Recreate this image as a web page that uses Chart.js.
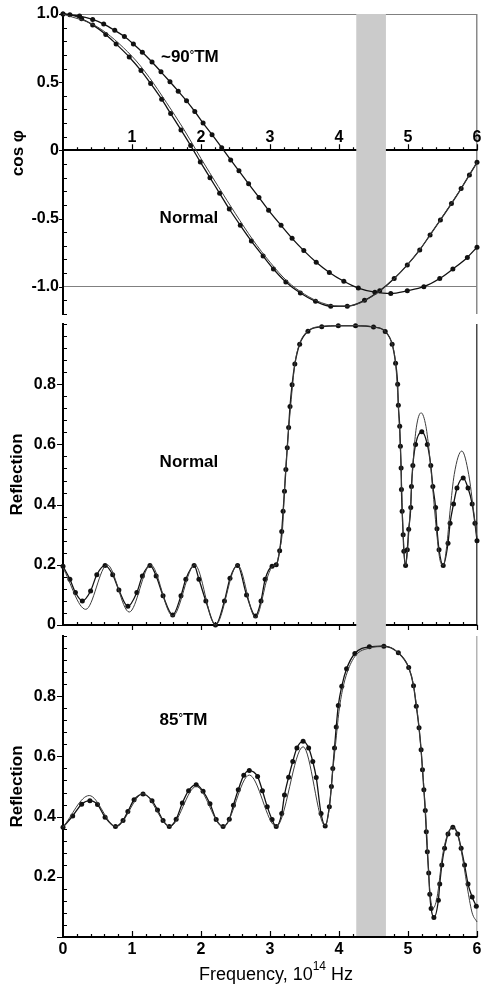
<!DOCTYPE html>
<html>
<head>
<meta charset="utf-8">
<script src="https://cdn.jsdelivr.net/npm/chart.js@4.4.1/dist/chart.umd.min.js"></script>
<style>
  html, body { margin: 0; padding: 0; background: #fff; }
  #wrap { position: relative; width: 481px; height: 989px; overflow: hidden; }
  canvas { position: absolute; left: 0; top: 0; }
</style>
</head>
<body>
<div id="wrap">
  <canvas id="c1" width="481" height="989"></canvas>
  <canvas id="c2" width="481" height="989"></canvas>
  <canvas id="c3" width="481" height="989"></canvas>
</div>
<script>
// ---- data (frequency in 10^14 Hz) ----
var bandFrom = 4.25, bandTo = 4.68;

// top panel: cos phi, ~90 deg TM (line with dots)
var tmDotX = [0, 0.24, 0.43, 0.59, 0.75, 0.89, 1.02, 1.15, 1.29, 1.42, 1.55, 1.67, 1.79, 1.91, 2.03, 2.16, 2.30, 2.43, 2.55, 2.69, 2.84, 2.98, 3.16, 3.32, 3.49, 3.67, 3.86, 4.07, 4.28, 4.52, 4.75, 4.99, 5.23, 5.46, 5.65, 5.86, 6.0];
var tmDotY = [1.0, 0.985, 0.96, 0.926, 0.88, 0.835, 0.78, 0.72, 0.648, 0.576, 0.503, 0.434, 0.363, 0.285, 0.2, 0.115, 0.02, -0.07, -0.15, -0.245, -0.345, -0.44, -0.55, -0.645, -0.735, -0.82, -0.895, -0.96, -1.01, -1.04, -1.05, -1.03, -1.0, -0.94, -0.87, -0.785, -0.71];
// top panel: normal incidence (dots + two close lines)
var normDotX = [0, 0.1, 0.27, 0.43, 0.62, 0.77, 0.96, 1.13, 1.27, 1.43, 1.56, 1.71, 1.85, 1.99, 2.13, 2.27, 2.41, 2.57, 2.73, 2.90, 3.05, 3.23, 3.44, 3.66, 3.88, 4.12, 4.37, 4.59, 4.80, 4.99, 5.17, 5.32, 5.47, 5.63, 5.77, 5.89, 6.0];
var normDotY = [1.0, 0.995, 0.965, 0.92, 0.85, 0.78, 0.685, 0.585, 0.49, 0.375, 0.27, 0.15, 0.035, -0.085, -0.2, -0.315, -0.43, -0.55, -0.665, -0.775, -0.87, -0.965, -1.046, -1.107, -1.143, -1.143, -1.10, -1.03, -0.94, -0.84, -0.73, -0.62, -0.51, -0.39, -0.28, -0.18, -0.088];
var normLineX = [0, 0.5, 1, 1.25, 1.5, 1.75, 2, 2.25, 2.5, 2.75, 3, 3.25, 3.5, 3.75, 4, 4.25, 4.5, 4.75, 5, 5.25, 5.5, 5.75, 6];
var normLineY = [1.0, 0.905, 0.69, 0.535, 0.35, 0.155, -0.06, -0.265, -0.465, -0.655, -0.82, -0.96, -1.055, -1.118, -1.143, -1.13, -1.065, -0.965, -0.835, -0.672, -0.485, -0.295, -0.088];

// middle panel: reflection, normal incidence
var rnDotX = [0, 0.1, 0.18, 0.28, 0.40, 0.49, 0.61, 0.72, 0.81, 0.94, 1.07, 1.15, 1.26, 1.35, 1.45, 1.59, 1.71, 1.78, 1.90, 1.97, 2.07, 2.21, 2.34, 2.42, 2.53, 2.66, 2.79, 2.87, 2.93, 3.03, 3.09, 3.14, 3.17, 3.19, 3.21, 3.23, 3.25, 3.27, 3.29, 3.32, 3.36, 3.43, 3.55, 3.75, 3.99, 4.24, 4.50, 4.67, 4.77, 4.82, 4.85, 4.86, 4.88, 4.89, 4.90, 4.905, 4.915, 4.93, 4.94, 4.965, 4.99, 5.01, 5.04, 5.05, 5.07, 5.11, 5.20, 5.28, 5.33, 5.36, 5.40, 5.42, 5.45, 5.51, 5.58, 5.61, 5.66, 5.71, 5.80, 5.87, 5.93, 5.97, 6.0];
var rnDotY = [0.195, 0.152, 0.108, 0.08, 0.113, 0.167, 0.198, 0.167, 0.116, 0.062, 0.108, 0.163, 0.198, 0.163, 0.097, 0.033, 0.097, 0.152, 0.198, 0.152, 0.08, 0.0, 0.08, 0.155, 0.198, 0.1, 0.03, 0.08, 0.152, 0.195, 0.2, 0.247, 0.311, 0.378, 0.444, 0.517, 0.589, 0.656, 0.726, 0.798, 0.867, 0.933, 0.976, 0.991, 0.994, 0.994, 0.99, 0.975, 0.933, 0.87, 0.8, 0.73, 0.66, 0.594, 0.522, 0.45, 0.378, 0.3, 0.245, 0.198, 0.25, 0.318, 0.39, 0.46, 0.53, 0.6, 0.642, 0.6, 0.53, 0.46, 0.39, 0.32, 0.25, 0.198, 0.272, 0.338, 0.402, 0.455, 0.488, 0.455, 0.402, 0.338, 0.28];
var rnLineX = [0, 0.33, 0.64, 0.96, 1.27, 1.59, 1.91, 2.21, 2.53, 2.79, 2.98, 3.05, 3.09, 3.14, 3.18, 3.21, 3.25, 3.30, 3.36, 3.43, 3.55, 3.75, 4.0, 4.25, 4.5, 4.67, 4.77, 4.82, 4.86, 4.90, 4.93, 4.965, 5.0, 5.04, 5.08, 5.12, 5.19, 5.26, 5.31, 5.36, 5.41, 5.46, 5.51, 5.56, 5.61, 5.67, 5.78, 5.88, 5.95, 6.0];
var rnLineY = [0.19, 0.052, 0.2, 0.043, 0.2, 0.03, 0.2, 0.0, 0.2, 0.025, 0.17, 0.197, 0.2, 0.25, 0.313, 0.45, 0.59, 0.73, 0.866, 0.935, 0.977, 0.992, 0.995, 0.995, 0.99, 0.975, 0.933, 0.87, 0.73, 0.522, 0.3, 0.198, 0.27, 0.41, 0.56, 0.655, 0.705, 0.66, 0.57, 0.45, 0.32, 0.22, 0.198, 0.26, 0.38, 0.5, 0.578, 0.5, 0.38, 0.29];

// bottom panel: reflection, 85 deg TM
var rtDotX = [0, 0.14, 0.27, 0.39, 0.50, 0.61, 0.76, 0.87, 0.94, 1.03, 1.16, 1.29, 1.37, 1.45, 1.54, 1.64, 1.73, 1.82, 1.93, 2.03, 2.13, 2.22, 2.32, 2.41, 2.47, 2.54, 2.62, 2.70, 2.82, 2.89, 2.96, 3.03, 3.09, 3.17, 3.21, 3.27, 3.33, 3.39, 3.48, 3.56, 3.62, 3.67, 3.74, 3.80, 3.86, 3.89, 3.91, 3.935, 3.96, 3.99, 4.04, 4.11, 4.23, 4.44, 4.65, 4.86, 5.01, 5.08, 5.12, 5.16, 5.19, 5.21, 5.23, 5.25, 5.265, 5.28, 5.30, 5.316, 5.335, 5.375, 5.44, 5.46, 5.49, 5.53, 5.58, 5.65, 5.72, 5.77, 5.82, 5.87, 5.93, 5.99];
var rtDotY = [0.365, 0.402, 0.441, 0.453, 0.44, 0.398, 0.367, 0.387, 0.417, 0.456, 0.475, 0.453, 0.422, 0.387, 0.367, 0.391, 0.445, 0.486, 0.506, 0.484, 0.443, 0.39, 0.367, 0.391, 0.438, 0.489, 0.537, 0.553, 0.533, 0.486, 0.433, 0.39, 0.367, 0.41, 0.472, 0.531, 0.583, 0.628, 0.65, 0.628, 0.583, 0.53, 0.41, 0.369, 0.433, 0.5, 0.56, 0.628, 0.698, 0.769, 0.833, 0.891, 0.942, 0.964, 0.966, 0.944, 0.895, 0.835, 0.767, 0.695, 0.622, 0.556, 0.489, 0.42, 0.35, 0.283, 0.213, 0.142, 0.095, 0.065, 0.122, 0.176, 0.239, 0.295, 0.342, 0.365, 0.342, 0.295, 0.239, 0.176, 0.133, 0.102];
var rtLineX = [0, 0.38, 0.77, 1.16, 1.55, 1.93, 2.32, 2.70, 3.09, 3.48, 3.80, 3.86, 3.90, 3.95, 4.0, 4.05, 4.12, 4.24, 4.44, 4.65, 4.86, 5.01, 5.08, 5.16, 5.22, 5.27, 5.31, 5.36, 5.42, 5.50, 5.58, 5.65, 5.73, 5.80, 5.87, 5.93, 6.0];
var rtLineY = [0.365, 0.47, 0.367, 0.476, 0.367, 0.5, 0.367, 0.538, 0.367, 0.632, 0.369, 0.43, 0.53, 0.64, 0.75, 0.82, 0.88, 0.935, 0.96, 0.966, 0.944, 0.895, 0.835, 0.695, 0.53, 0.35, 0.17, 0.095, 0.13, 0.27, 0.345, 0.365, 0.33, 0.25, 0.15, 0.08, 0.05];

// ticks and labels
var xTicks = [0, 1, 2, 3, 4, 5, 6];
var xLabelsTop = ['', '1', '2', '3', '4', '5', '6'];
var xLabelsBottom = ['0', '1', '2', '3', '4', '5', '6'];
var yTicksTop = [-1, -0.5, 0, 0.5, 1];
var yLabelsTop = ['-1.0', '-0.5', '0', '0.5', '1.0'];
var yTicksRefl = [0, 0.2, 0.4, 0.6, 0.8];
var yLabelsMid = ['0', '0.2', '0.4', '0.6', '0.8'];
var yLabelsBot = ['', '0.2', '0.4', '0.6', '0.8'];

var FONT = '"Liberation Sans", Arial, Helvetica, sans-serif';
Chart.defaults.font.family = FONT;
Chart.defaults.color = '#000';

function pts(xs, ys) {
    return xs.map(function (x, i) { return {x: x, y: ys[i]}; });
}

function thinLine(xs, ys) {
    return {data: pts(xs, ys), borderColor: '#3c3c3c', borderWidth: 1, pointRadius: 0,
        cubicInterpolationMode: 'monotone', fill: false, clip: 4};
}

function dotLine(xs, ys) {
    return {data: pts(xs, ys), borderColor: '#111', borderWidth: 1.3, pointRadius: 2.5,
        pointBackgroundColor: '#111', pointBorderWidth: 0,
        cubicInterpolationMode: 'monotone', fill: false, clip: 4};
}

// text made of pieces, some raised (superscripts)
function drawParts(ctx, parts, x, y, center, weight) {
    var w = weight ? weight + ' ' : '';
    var total = 0;
    parts.forEach(function (p) {
        ctx.font = w + p[1] + 'px ' + FONT;
        total += ctx.measureText(p[0]).width;
    });
    var cx = center ? x - total / 2 : x;
    parts.forEach(function (p) {
        ctx.font = w + p[1] + 'px ' + FONT;
        ctx.fillText(p[0], cx, y - p[2]);
        cx += ctx.measureText(p[0]).width;
    });
}

// minor ticks, shaded band and labels for one panel
function panelPlugin(cfg) {
    return {
        id: 'panel' + cfg.name,
        beforeDatasetsDraw: function (chart) {
            var ctx = chart.ctx, a = chart.chartArea, x = chart.scales.x, y = chart.scales.y;
            ctx.save();
            ctx.strokeStyle = '#000';
            ctx.lineWidth = 1.2;
            ctx.beginPath();
            var ny = Math.round((y.max - y.min) / cfg.yMinor);
            for (var i = 0; i <= ny; i++) {
                var v = y.min + i * cfg.yMinor;
                var py = Math.round(y.getPixelForValue(v)) + 0.5;
                var major = cfg.yMajor.some(function (t) { return Math.abs(t - v) < 1e-6; });
                if (major) { ctx.moveTo(a.left - cfg.yMajorLen, py); ctx.lineTo(a.left, py); }
                else { ctx.moveTo(a.left, py); ctx.lineTo(a.left + cfg.yMinorLen, py); }
            }
            var axisY = cfg.xAxisAt === null ? a.bottom : y.getPixelForValue(cfg.xAxisAt);
            var nx = Math.round((x.max - x.min) / cfg.xMinor);
            for (var j = 1; j <= nx; j++) {
                var xv = x.min + j * cfg.xMinor;
                var px = Math.round(x.getPixelForValue(xv)) + 0.5;
                var len = Math.abs(xv - Math.round(xv)) < 1e-6 ? cfg.xMajorLen : cfg.xMinorLen;
                ctx.moveTo(px, axisY);
                ctx.lineTo(px, axisY - len);
            }
            ctx.stroke();
            // shaded band
            var b0 = x.getPixelForValue(bandFrom), b1 = x.getPixelForValue(bandTo);
            ctx.fillStyle = '#cbcbcb';
            ctx.fillRect(b0, a.top - cfg.bandUp, b1 - b0, a.bottom - a.top + cfg.bandUp + cfg.bandDown);
            ctx.restore();
        },
        afterDatasetsDraw: function (chart) {
            var ctx = chart.ctx, x = chart.scales.x, y = chart.scales.y;
            ctx.save();
            ctx.fillStyle = '#000';
            ctx.textBaseline = 'alphabetic';
            ctx.textAlign = 'left';
            cfg.notes.forEach(function (n) {
                drawParts(ctx, n.parts, x.getPixelForValue(n.x), y.getPixelForValue(n.y), false, 'bold');
            });
            if (cfg.after) cfg.after(chart, ctx);
            ctx.restore();
        }
    };
}

function makeChart(id, cfg) {
    var top = cfg.xAxisAt !== null;
    return new Chart(document.getElementById(id), {
        type: 'line',
        data: {datasets: cfg.datasets},
        options: {
            responsive: false,
            animation: false,
            events: [],
            layout: {padding: cfg.padding},
            plugins: {legend: {display: false}, tooltip: {enabled: false}},
            scales: {
                x: {
                    type: 'linear', min: 0, max: 6,
                    position: top ? {y: cfg.xAxisAt} : 'bottom',
                    afterBuildTicks: function (ax) { ax.ticks = xTicks.map(function (v) { return {value: v}; }); },
                    ticks: {
                        display: cfg.xLabels !== null,
                        padding: cfg.xPad,
                        font: {size: 16, weight: 'bold'},
                        color: '#000',
                        maxRotation: 0,
                        callback: function (v, i) { return cfg.xLabels ? cfg.xLabels[i] : ''; }
                    },
                    grid: {
                        drawTicks: false,
                        lineWidth: 1.5,
                        color: function (c) { return c.tick && c.tick.value === 6 ? cfg.rightColor : 'rgba(0,0,0,0)'; }
                    },
                    border: {display: true, color: '#000', width: 2},
                    afterFit: function (ax) {
                        ax.paddingLeft = 0; ax.paddingRight = 0;
                        if (!top) ax.height = cfg.xHeight;
                    }
                },
                y: {
                    type: 'linear', min: cfg.yMin, max: cfg.yMax,
                    afterBuildTicks: function (ax) { ax.ticks = cfg.yTicks.map(function (v) { return {value: v}; }); },
                    ticks: {
                        padding: cfg.yPad,
                        font: {size: 16, weight: 'bold'},
                        color: '#000',
                        callback: function (v, i) { return cfg.yLabels[i]; }
                    },
                    grid: {
                        drawTicks: false,
                        lineWidth: 1,
                        color: function (c) {
                            return c.tick && cfg.refLines.indexOf(c.tick.value) >= 0 ? '#808080' : 'rgba(0,0,0,0)';
                        }
                    },
                    border: {display: true, color: '#000', width: 2},
                    title: {
                        display: cfg.yTitle !== null,
                        text: cfg.yTitle || '',
                        font: {size: 17, weight: 'bold'},
                        color: '#000',
                        padding: {top: 7, bottom: 0}
                    },
                    afterFit: function (ax) { ax.width = 63; ax.paddingTop = 0; ax.paddingBottom = 0; }
                }
            }
        },
        plugins: [panelPlugin(cfg)]
    });
}

// top: cos phi
makeChart('c1', {
    name: 'top',
    datasets: [thinLine(normLineX, normLineY), dotLine(normDotX, normDotY), dotLine(tmDotX, tmDotY)],
    padding: {left: 0, right: 2, top: 14, bottom: 675},
    xAxisAt: 0, xLabels: xLabelsTop, xPad: -22, xHeight: 0,
    yMin: -1.2, yMax: 1.0, yTicks: yTicksTop, yLabels: yLabelsTop, yPad: 4,
    refLines: [1, -1], rightColor: '#8a8a8a', yTitle: null,
    yMinor: 0.1, yMajor: yTicksTop, yMajorLen: 4, yMinorLen: 4,
    xMinor: 0.2, xMajorLen: 6, xMinorLen: 3,
    bandUp: 0, bandDown: 5,
    notes: [
        {x: 1.42, y: 0.646, parts: [['~90', 17, 0], ['\u00b0', 11, 4], ['TM', 17, 0]]},
        {x: 1.40, y: -0.53, parts: [['Normal', 17, 0]]}
    ],
    after: function (chart, ctx) {
        var y = chart.scales.y;
        ctx.translate(18, y.getPixelForValue(-0.02));
        ctx.rotate(-Math.PI / 2);
        ctx.textAlign = 'center';
        ctx.textBaseline = 'middle';
        ctx.font = 'bold 17px ' + FONT;
        ctx.fillText('cos \u03c6', 0, 0);
    }
});

// middle: reflection, normal
makeChart('c2', {
    name: 'mid',
    datasets: [thinLine(rnLineX, rnLineY), dotLine(rnDotX, rnDotY)],
    padding: {left: 0, right: 2, top: 324, bottom: 364},
    xAxisAt: null, xLabels: null, xPad: 0, xHeight: 0,
    yMin: 0, yMax: 1.0, yTicks: yTicksRefl, yLabels: yLabelsMid, yPad: 7,
    refLines: [], rightColor: '#4a4a4a', yTitle: 'Reflection',
    yMinor: 0.04, yMajor: yTicksRefl, yMajorLen: 6, yMinorLen: 4,
    xMinor: 0.2, xMajorLen: -5, xMinorLen: 3,
    bandUp: 5, bandDown: 5,
    notes: [{x: 1.40, y: 0.526, parts: [['Normal', 17, 0]]}]
});

// bottom: reflection, 85 deg TM
makeChart('c3', {
    name: 'bot',
    datasets: [thinLine(rtLineX, rtLineY), dotLine(rtDotX, rtDotY)],
    padding: {left: 0, right: 2, top: 636, bottom: 0},
    xAxisAt: null, xLabels: xLabelsBottom, xPad: 3, xHeight: 52,
    yMin: 0, yMax: 1.0, yTicks: yTicksRefl, yLabels: yLabelsBot, yPad: 7,
    refLines: [], rightColor: '#b4b4b4', yTitle: 'Reflection',
    yMinor: 0.04, yMajor: yTicksRefl, yMajorLen: 6, yMinorLen: 4,
    xMinor: 0.2, xMajorLen: 6, xMinorLen: 3,
    bandUp: 6, bandDown: -1,
    notes: [{x: 1.40, y: 0.704, parts: [['85', 17, 0], ['\u00b0', 11, 4], ['TM', 17, 0]]}],
    after: function (chart, ctx) {
        var a = chart.chartArea;
        drawParts(ctx, [['Frequency, 10', 18, 0], ['14', 12, 10], [' Hz', 18, 0]],
            (a.left + a.right) / 2 + 6, a.bottom + 43, true, '');
    }
});
</script>
</body>
</html>
